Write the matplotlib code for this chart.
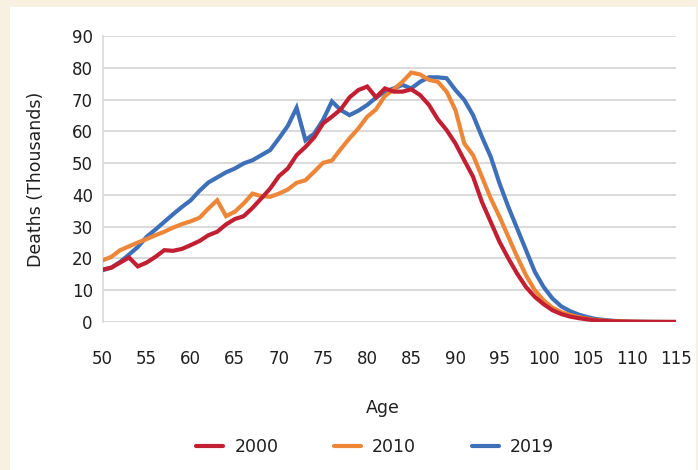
import matplotlib
matplotlib.use("Agg")
import matplotlib.pyplot as plt
from matplotlib.patches import Rectangle
from matplotlib.lines import Line2D

ages = list(range(50, 116))

deaths_2000 = [16.5, 17.1, 18.7, 20.3, 17.5, 18.7, 20.5, 22.6, 22.4, 23.0,
               24.2, 25.5, 27.3, 28.4, 30.7, 32.4, 33.3, 35.9, 38.9, 42.0,
               45.9, 48.3, 52.5, 55.1, 58.1, 62.5, 64.6, 66.9, 70.7, 73.0,
               74.1, 70.7, 73.5, 72.5, 72.5, 73.2, 71.4, 68.3, 63.8, 60.4,
               56.2, 50.9, 45.7, 37.8, 31.5, 25.2, 20.0, 15.2, 11.0, 7.9,
               5.6, 3.7, 2.5, 1.7, 1.2, 0.8, 0.5, 0.3, 0.2, 0.12,
               0.08, 0.05, 0.03, 0.02, 0.01, 0.01]

deaths_2010 = [19.4, 20.5, 22.6, 23.8, 25.0, 26.1, 27.3, 28.4, 29.7, 30.8,
               31.7, 32.8, 35.7, 38.3, 33.3, 34.7, 37.3, 40.4, 39.6, 39.4,
               40.4, 41.7, 43.8, 44.6, 47.3, 50.1, 50.8, 54.4, 57.8, 60.9,
               64.6, 66.9, 71.1, 73.2, 75.6, 78.5, 77.9, 76.2, 75.6, 72.5,
               66.7, 56.2, 52.5, 45.7, 38.9, 33.1, 26.8, 20.5, 14.7, 10.0,
               6.8, 4.5, 3.1, 2.2, 1.5, 1.0, 0.6, 0.4, 0.25, 0.15,
               0.1, 0.06, 0.04, 0.02, 0.01, 0.01]

deaths_2019 = [16.3, 17.1, 18.9, 21.2, 23.6, 26.8, 29.1, 31.5, 33.9, 36.2,
               38.3, 41.3, 43.9, 45.5, 47.1, 48.3, 49.9, 50.9, 52.5, 54.1,
               57.8, 61.7, 67.4, 57.2, 59.3, 63.6, 69.4, 66.7, 65.1, 66.5,
               68.3, 70.6, 72.5, 73.5, 74.6, 73.5, 75.6, 77.0, 77.0, 76.7,
               73.0, 69.9, 65.1, 58.3, 52.0, 43.6, 36.2, 29.4, 22.6, 15.8,
               11.0, 7.4, 4.9, 3.4, 2.3, 1.5, 0.9, 0.6, 0.35, 0.2,
               0.12, 0.08, 0.05, 0.03, 0.02, 0.01]

series_labels = ["2000", "2010", "2019"]
series_colors = ["#C21F32", "#EE8638", "#3E70B9"]
x_ticks = list(range(50, 116, 5))
y_ticks = list(range(0, 91, 10))

W, H = 698, 470
fig = plt.figure(figsize=(W / 100, H / 100), dpi=100)
fig.patch.set_facecolor("#F8F1E2")
fig.patches.append(Rectangle((10 / W, 0), 686 / W, 463 / H, transform=fig.transFigure,
                             facecolor="white", edgecolor="none", zorder=-10))

text_color = "#1F1F1F"
plt.rcParams["font.family"] = ["DejaVu Sans"]

ax = fig.add_axes([102.5 / W, 1 - 322 / H, (676 - 102.5) / W, (322 - 36) / H])
ax.set_zorder(1)
ax.set_facecolor("white")

# draw 2019 first, then 2010, then 2000 on top (as in reference)
order = [2, 1, 0]
all_vals = [deaths_2000, deaths_2010, deaths_2019]
for i in order:
    ax.plot(ages, all_vals[i], color=series_colors[i], lw=3.0, label=series_labels[i],
            solid_capstyle="round", solid_joinstyle="miter", zorder=3)

ax.set_xlim(50, 115)
ax.set_ylim(0, 90)
ax.set_yticks(y_ticks)
ax.set_xticks(x_ticks)
ax.grid(axis="y", color="#D9D9D9", lw=1.4, zorder=0)
ax.set_axisbelow(True)
for s in ["top", "right", "bottom"]:
    ax.spines[s].set_visible(False)
ax.spines["left"].set_color("#D9D9D9")
ax.spines["left"].set_linewidth(1.2)
ax.tick_params(axis="both", length=0, labelsize=12, colors=text_color)
ax.tick_params(axis="x", pad=20)
ax.tick_params(axis="y", pad=7)
ax.set_ylabel("Deaths (Thousands)", fontsize=12.5, color=text_color, labelpad=19)

fig.text(383 / W, 1 - 408 / H, "Age", ha="center", va="center", fontsize=12.5, color=text_color)

handles = [Line2D([0], [0], color=c, lw=3.0, solid_capstyle="round") for c in series_colors]
fig.legend(handles, series_labels, loc="center", bbox_to_anchor=(375 / W, 1 - 447 / H),
           ncol=3, frameon=False, fontsize=12.5, handlelength=1.55, handletextpad=0.65,
           columnspacing=3.2, labelcolor=text_color)

fig.savefig("out.png", dpi=100, facecolor=fig.get_facecolor())
